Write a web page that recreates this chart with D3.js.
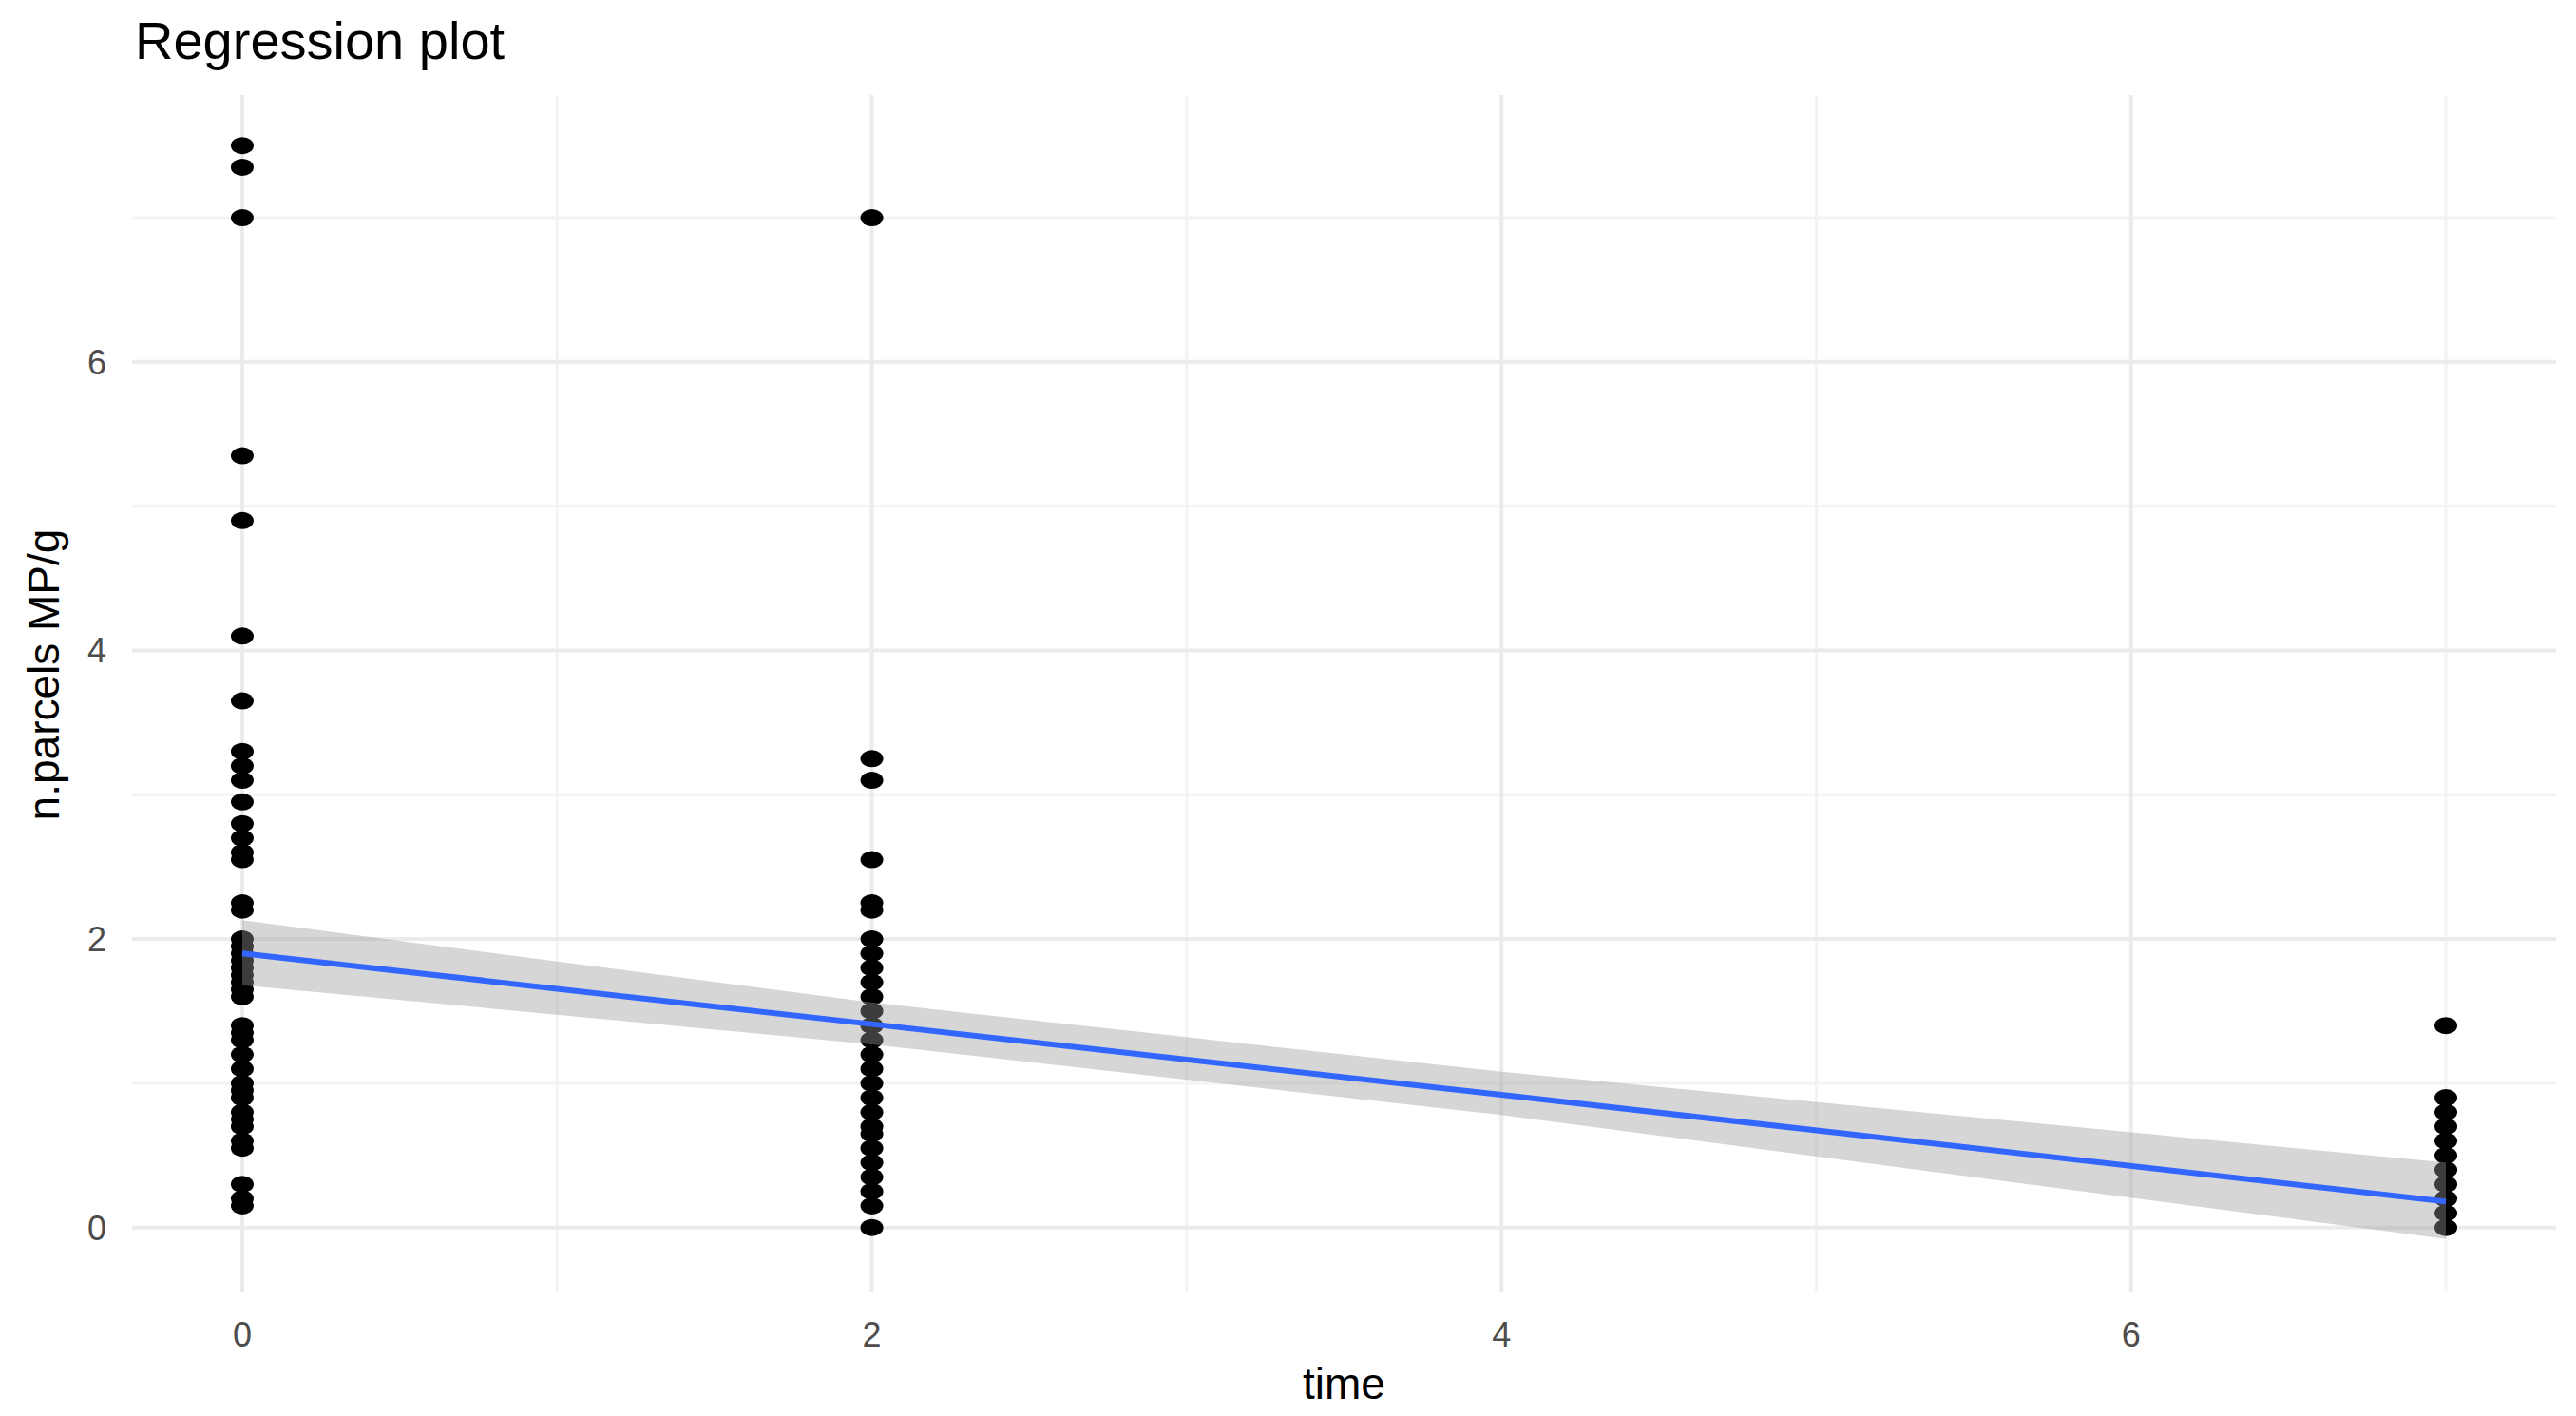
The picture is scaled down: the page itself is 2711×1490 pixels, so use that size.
<!DOCTYPE html>
<html lang="en">
<head>
<meta charset="utf-8">
<title>Regression plot</title>
<style>
  body { margin: 0; background: #fff; }
  svg { display: block; font-family: "Liberation Sans", Arial, sans-serif; }
</style>
</head>
<body>
<script src="https://cdn.jsdelivr.net/npm/d3@7"></script>
<script>
// values
const time0 = [7.5, 7.35, 7.0, 5.35, 4.9, 4.1, 3.65, 3.3, 3.2, 3.1, 2.95, 2.8, 2.7, 2.6, 2.55, 2.25, 2.2, 2.0, 1.95, 1.9, 1.85, 1.8, 1.75, 1.7, 1.65, 1.6, 1.4, 1.35, 1.3, 1.2, 1.1, 1.0, 0.95, 0.9, 0.8, 0.75, 0.7, 0.6, 0.55, 0.3, 0.2, 0.15];
const time2 = [7.0, 3.25, 3.1, 2.55, 2.25, 2.2, 2.0, 1.9, 1.8, 1.7, 1.6, 1.5, 1.4, 1.3, 1.2, 1.1, 1.0, 0.9, 0.8, 0.7, 0.65, 0.55, 0.45, 0.35, 0.25, 0.15, 0.0];
const time7 = [1.4, 0.9, 0.8, 0.7, 0.6, 0.5, 0.4, 0.3, 0.2, 0.1, 0.0];
const fitX = [0, 2, 4, 7];
const fitY = [1.9, 1.41, 0.92, 0.18];
const fitLo = [1.68, 1.27, 0.78, -0.08];
const fitHi = [2.13, 1.56, 1.08, 0.45];
const xTicks = [0, 2, 4, 6];
const yTicks = [0, 2, 4, 6];

const W = 2711, H = 1490;
const panel = { left: 139, right: 2690, top: 100, bottom: 1360 };

const points = [
  ...time0.map(v => ({ x: 0, y: v })),
  ...time2.map(v => ({ x: 2, y: v })),
  ...time7.map(v => ({ x: 7, y: v }))
];

const x = d3.scaleLinear().domain([-0.35, 7.35]).range([panel.left, panel.right]);
const y = d3.scaleLinear().domain([-0.45, 7.85]).range([panel.bottom, panel.top]);

const svg = d3.select("body").append("svg")
  .attr("width", W).attr("height", H)
  .attr("viewBox", [0, 0, W, H]);

// minor grid
svg.append("g").selectAll("line").data([1, 3, 5, 7])
  .join("line")
  .attr("x1", d => x(d)).attr("x2", d => x(d))
  .attr("y1", panel.top).attr("y2", panel.bottom)
  .attr("stroke", "#f3f3f3").attr("stroke-width", 3);
svg.append("g").selectAll("line").data([1, 3, 5, 7])
  .join("line")
  .attr("x1", panel.left).attr("x2", panel.right)
  .attr("y1", d => y(d)).attr("y2", d => y(d))
  .attr("stroke", "#f3f3f3").attr("stroke-width", 3);

// major grid
svg.append("g").selectAll("line").data(xTicks)
  .join("line")
  .attr("x1", d => x(d)).attr("x2", d => x(d))
  .attr("y1", panel.top).attr("y2", panel.bottom)
  .attr("stroke", "#ebebeb").attr("stroke-width", 4);
svg.append("g").selectAll("line").data(yTicks)
  .join("line")
  .attr("x1", panel.left).attr("x2", panel.right)
  .attr("y1", d => y(d)).attr("y2", d => y(d))
  .attr("stroke", "#ebebeb").attr("stroke-width", 4);

// points
svg.append("g").selectAll("ellipse").data(points)
  .join("ellipse")
  .attr("cx", d => x(d.x)).attr("cy", d => y(d.y))
  .attr("rx", 12).attr("ry", 9)
  .attr("fill", "#000");

// confidence band
const fit = fitX.map((v, i) => ({ x: v, y: fitY[i], lo: fitLo[i], hi: fitHi[i] }));
svg.append("path").datum(fit)
  .attr("d", d3.area().x(d => x(d.x)).y0(d => y(d.lo)).y1(d => y(d.hi)))
  .attr("fill", "#999999").attr("fill-opacity", 0.4);

svg.append("path").datum(fit)
  .attr("d", d3.line().x(d => x(d.x)).y(d => y(d.y)))
  .attr("fill", "none").attr("stroke", "#3366FF").attr("stroke-width", 6);

// tick labels
svg.append("g").selectAll("text").data(xTicks)
  .join("text")
  .attr("x", d => x(d)).attr("y", 1417)
  .attr("text-anchor", "middle")
  .attr("font-size", 36).attr("fill", "#4d4d4d")
  .text(d => d);
svg.append("g").selectAll("text").data(yTicks)
  .join("text")
  .attr("x", 112).attr("y", d => y(d) + 13)
  .attr("text-anchor", "end")
  .attr("font-size", 36).attr("fill", "#4d4d4d")
  .text(d => d);

// axis titles
svg.append("text")
  .attr("x", (panel.left + panel.right) / 2).attr("y", 1472)
  .attr("text-anchor", "middle").attr("font-size", 46).attr("fill", "#000")
  .text("time");
svg.append("text")
  .attr("transform", `translate(62,${(panel.top + panel.bottom) / 2 - 20}) rotate(-90)`)
  .attr("text-anchor", "middle").attr("font-size", 46).attr("fill", "#000")
  .text("n.parcels MP/g");

svg.append("text")
  .attr("x", 142).attr("y", 62)
  .attr("font-size", 56).attr("fill", "#000")
  .text("Regression plot");
</script>
</body>
</html>
